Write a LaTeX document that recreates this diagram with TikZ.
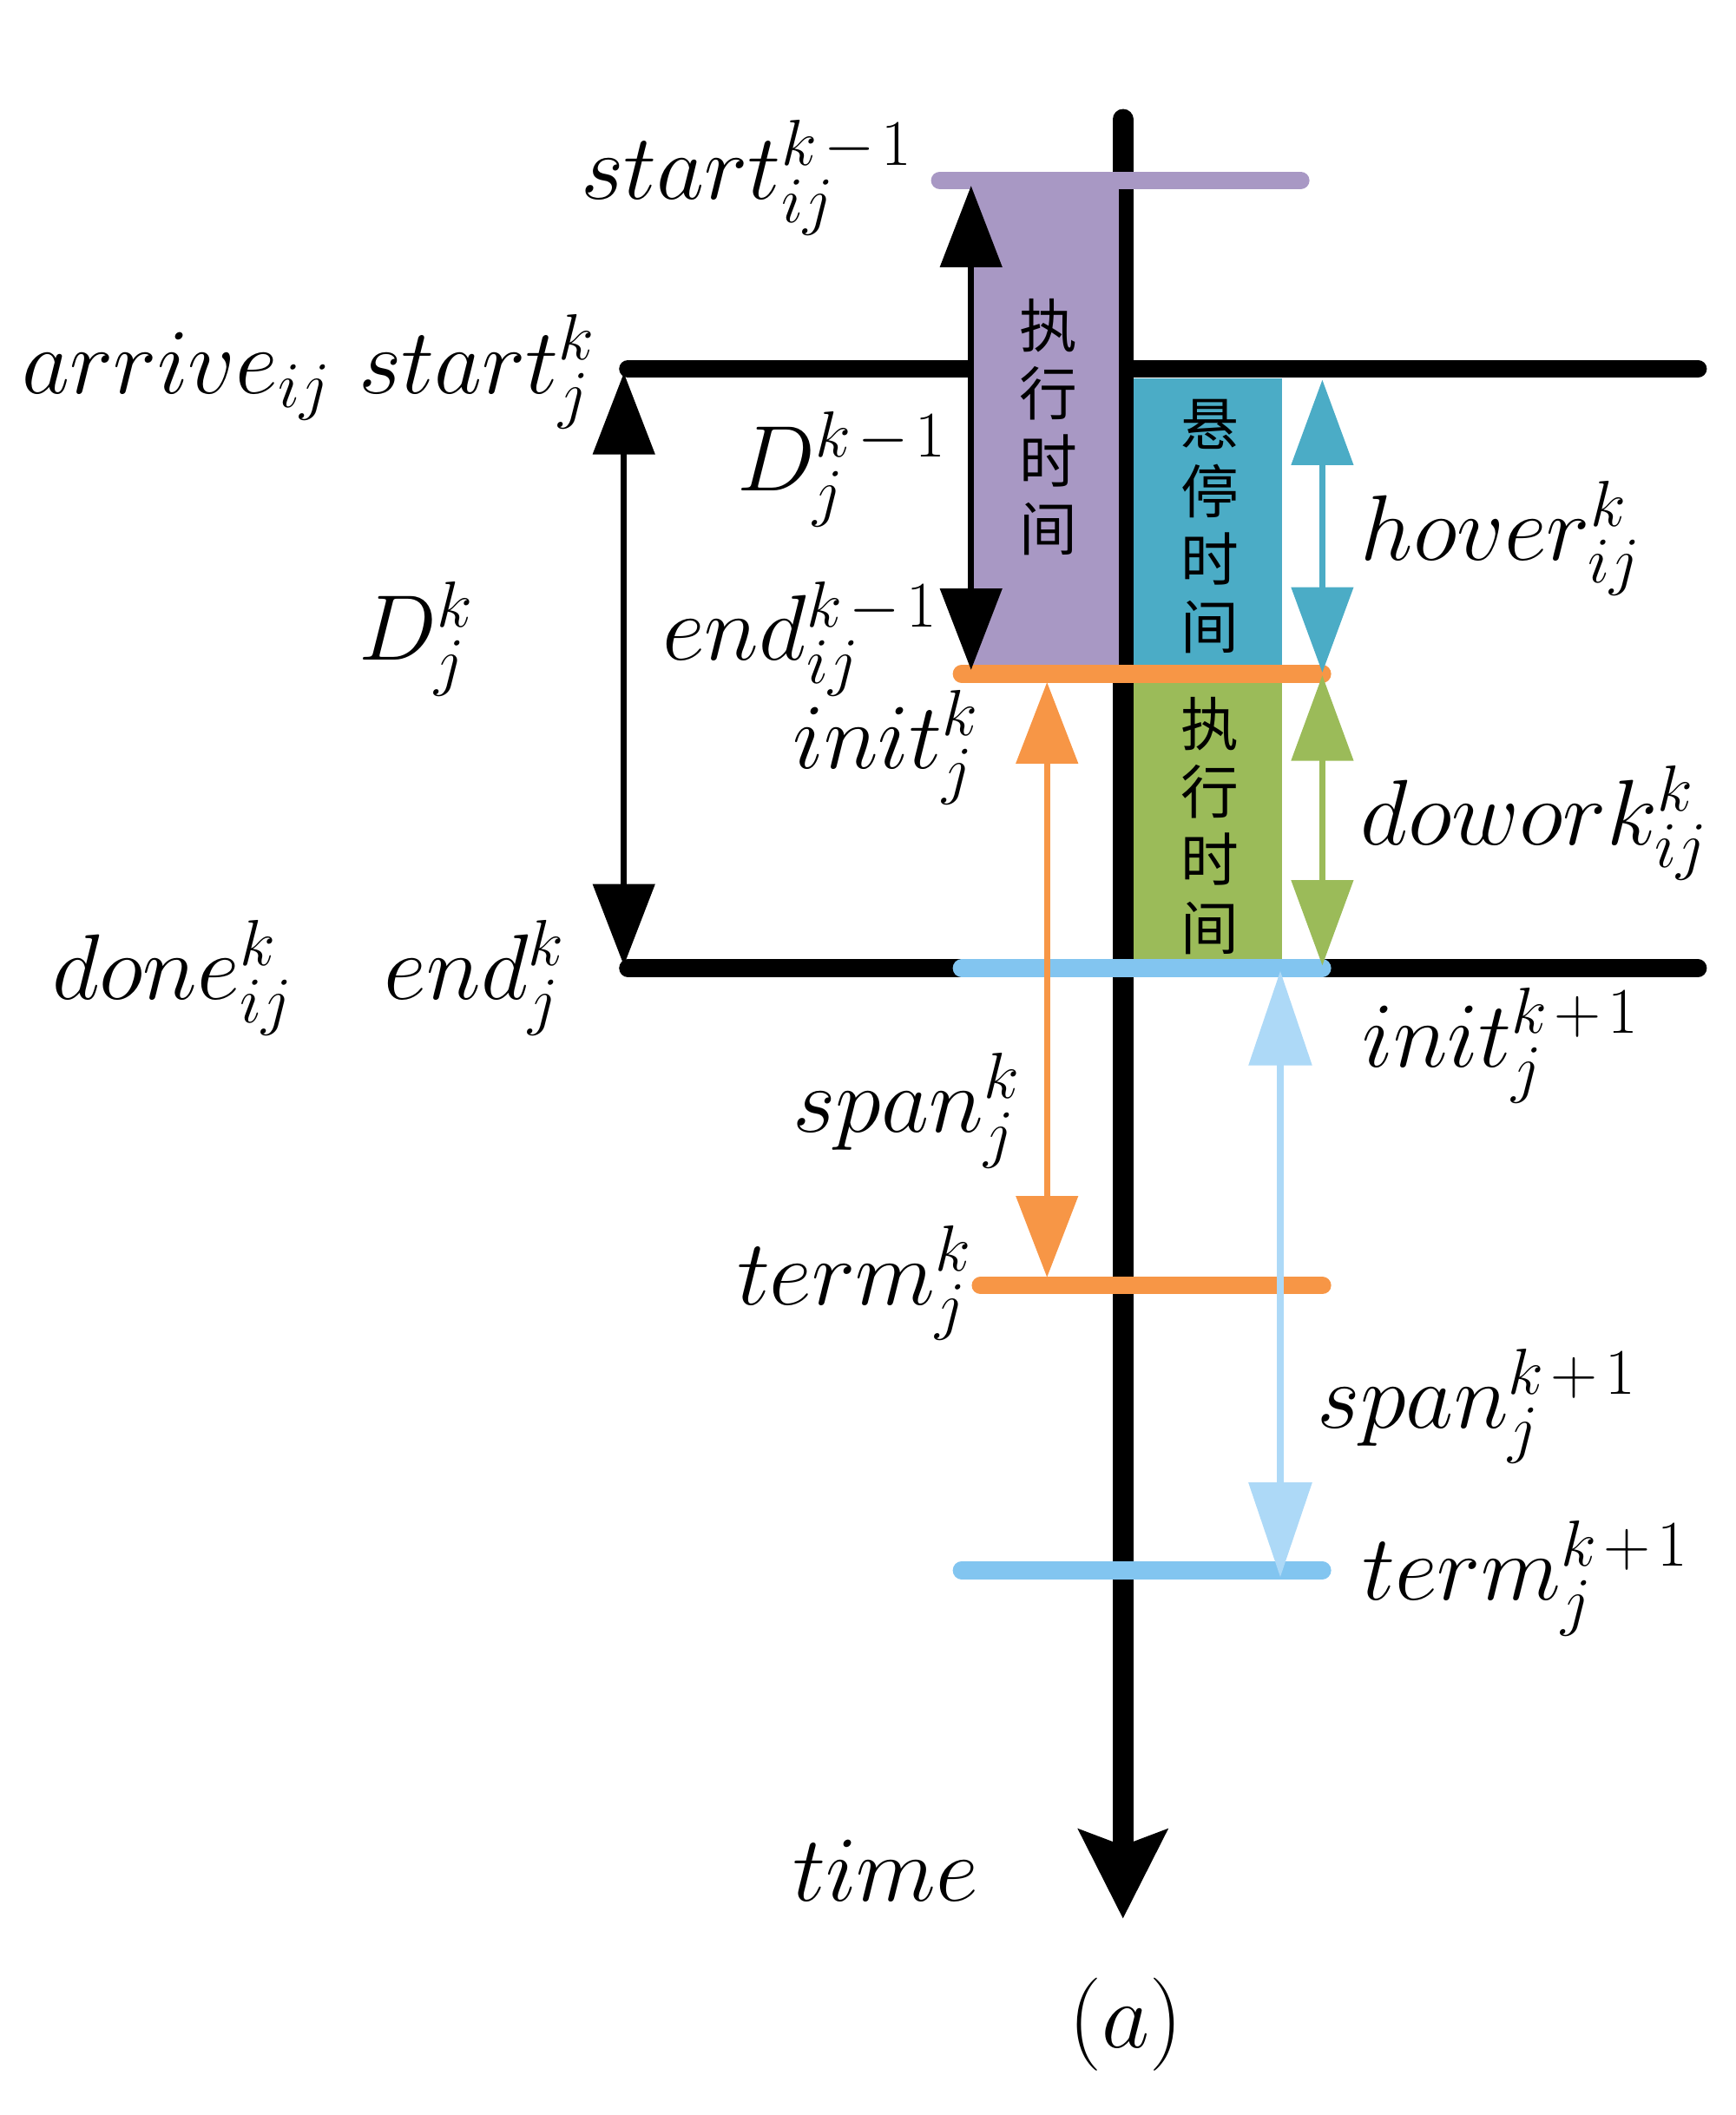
\RequirePackage{fix-cm}
\documentclass[tikz,border=0pt]{standalone}
\usepackage{fontspec}
\newfontfamily\cjk{Noto Sans CJK SC}
\usetikzlibrary{arrows.meta}
\definecolor{purpC}{RGB}{168,152,196}
\definecolor{hoverC}{RGB}{75,172,198}
\definecolor{greenC}{RGB}{155,187,89}
\definecolor{orangeC}{RGB}{247,150,70}
\definecolor{lblueL}{RGB}{130,197,240}
\definecolor{lblueA}{RGB}{173,217,247}
\newcommand\Sc[3]{#1_{#2}^{#3}}
\newcommand\km{k\mkern2mu-\mkern2mu1}
\newcommand\kp{k\mkern2mu+\mkern2mu1}
\begin{document}
\begin{tikzpicture}[x=0.015625cm,y=-0.015625cm,
  lbl/.style={inner sep=0pt, anchor=base west, font=\fontsize{30.5}{36}\selectfont},
  cjkl/.style={inner sep=0pt, align=center, font=\cjk\fontsize{19}{22.2}\selectfont},
  hline/.style={line width=5.8pt, line cap=round},
  shaft/.style={line width=2pt},
  dbl/.style={{Triangle[length=26.7pt,width=20pt]}-{Triangle[length=26.7pt,width=20pt]}},
  dblh/.style={{Triangle[length=28pt,width=20pt]}-{Triangle[length=28pt,width=20pt]}},
  dbll/.style={{Triangle[length=31pt,width=20.4pt]}-{Triangle[length=31pt,width=20.4pt]}}]
\useasboundingbox (0,0) rectangle (1280,1559.7);
% coordinates
\coordinate (ax0) at (828,88);
\coordinate (ax1) at (828,1415);
\coordinate (bs0) at (463,272);
\coordinate (bs1) at (1252,272);
\coordinate (be0) at (463,714);
\coordinate (be1) at (1252,714);
\coordinate (pl0) at (693,133);
\coordinate (pl1) at (959,133);
\coordinate (ol0) at (709,497);
\coordinate (ol1) at (975,497);
\coordinate (bl0) at (709,714);
\coordinate (bl1) at (975,714);
\coordinate (ot0) at (723,948);
\coordinate (ot1) at (975,948);
\coordinate (bt0) at (709,1158);
\coordinate (bt1) at (975,1158);
% black lines and axis
\draw[hline] (bs0) -- (bs1);
\draw[hline] (be0) -- (be1);
\draw[line width=6.8pt, line cap=round, -{Stealth[length=29pt,width=28.5pt,inset=5pt]}] (ax0) -- (ax1);
% rectangles
\fill[purpC] (715,133) rectangle (825,497);
\fill[hoverC] (836,279) rectangle (945,497);
\fill[greenC] (836,497) rectangle (945,714);
% coloured lines
\draw[hline, purpC] (pl0) -- (pl1);
\draw[hline, orangeC] (ol0) -- (ol1);
\draw[hline, lblueL] (bl0) -- (bl1);
\draw[hline, orangeC] (ot0) -- (ot1);
\draw[hline, lblueL] (bt0) -- (bt1);
% arrows
\coordinate (dk0) at (460,275);
\coordinate (dk1) at (460,712);
\coordinate (dm0) at (716,137);
\coordinate (dm1) at (716,494);
\coordinate (or0) at (772,503);
\coordinate (or1) at (772,942);
\coordinate (hv0) at (975,280);
\coordinate (hv1) at (975,496);
\coordinate (gr0) at (975,498);
\coordinate (gr1) at (975,712);
\coordinate (lb0) at (944,716);
\coordinate (lb1) at (944,1163);
\draw[shaft, dbl] (dk0) -- (dk1);
\draw[shaft, dbl] (dm0) -- (dm1);
\draw[shaft, dbl, orangeC] (or0) -- (or1);
\draw[shaft, dblh, hoverC] (hv0) -- (hv1);
\draw[shaft, dblh, greenC] (gr0) -- (gr1);
\draw[shaft, dbll, lblueA] (lb0) -- (lb1);
% CJK
\node[cjkl] (c1) at (773,315) {执\\行\\时\\间};
\node[cjkl] (c2) at (892,388) {悬\\停\\时\\间};
\node[cjkl] (c3) at (892,609) {执\\行\\时\\间};
% labels
\node[lbl] (t1) at (428,147) {$\Sc{start}{ij}{\km}$};
\node[lbl] (t2) at (16,290) {$arrive_{ij}$};
\node[lbl] (t3) at (264,290) {$\Sc{start}{j}{k}$};
\node[lbl] (t4) at (543,362) {$\Sc{D}{j}{\km}$};
\node[lbl] (t5) at (264,487) {$\Sc{D}{j}{k}$};
\node[lbl] (t6) at (488,487) {$\Sc{end}{ij}{\km}$};
\node[lbl] (t7) at (584,567) {$\Sc{init}{j}{k}$};
\node[lbl] (t8) at (1003,413) {$\Sc{hover}{ij}{k}$};
\node[lbl] (t9) at (1003,623) {$\Sc{dowork}{ij}{k}$};
\node[lbl] (t10) at (38,737) {$\Sc{done}{ij}{k}$};
\node[lbl] (t11) at (283,737) {$\Sc{end}{j}{k}$};
\node[lbl] (t12) at (1004,787) {$\Sc{init}{j}{\kp}$};
\node[lbl] (t13) at (584,835) {$\Sc{span}{j}{k}$};
\node[lbl] (t14) at (543,962) {$\Sc{term}{j}{k}$};
\node[lbl] (t15) at (971,1053) {$\Sc{span}{j}{\kp}$};
\node[lbl] (t16) at (1004,1180) {$\Sc{term}{j}{\kp}$};
\node[lbl] (t17) at (584,1402) {$time$};
\node[lbl, anchor=base] (t18) at (830,1510) {$(a)$};
\end{tikzpicture}
\end{document}
